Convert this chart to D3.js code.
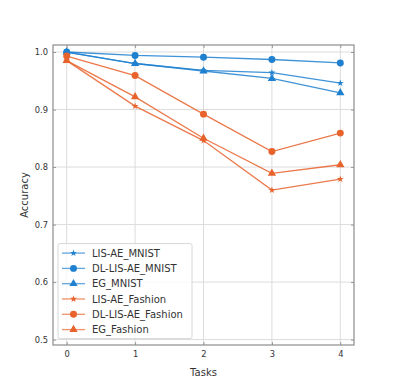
<!DOCTYPE html>
<html>
<head>
<meta charset="utf-8">
<script src="https://cdn.jsdelivr.net/npm/d3@7"></script>
<style>
  body { margin: 0; background: #fff; }
  text { font-family: "DejaVu Sans", sans-serif; }
</style>
</head>
<body>
<svg id="chart" width="396" height="389"></svg>
<script>
/* data */
const tasks = [0, 1, 2, 3, 4];
const lisAeMnist      = [1.000, 0.980, 0.968, 0.964, 0.946];
const dlLisAeMnist    = [1.000, 0.994, 0.991, 0.987, 0.981];
const egMnist         = [1.000, 0.980, 0.967, 0.954, 0.929];
const lisAeFashion    = [0.985, 0.906, 0.846, 0.760, 0.779];
const dlLisAeFashion  = [0.993, 0.959, 0.892, 0.827, 0.859];
const egFashion       = [0.985, 0.922, 0.850, 0.789, 0.804];
const yTicks = [0.5, 0.6, 0.7, 0.8, 0.9, 1.0];

const blue = "#1f80d0", orange = "#e8622c";
const series = [
  {name: "LIS-AE_MNIST",      values: lisAeMnist,     color: blue,   shape: "star"},
  {name: "DL-LIS-AE_MNIST",   values: dlLisAeMnist,   color: blue,   shape: "circle"},
  {name: "EG_MNIST",          values: egMnist,        color: blue,   shape: "triangle"},
  {name: "LIS-AE_Fashion",    values: lisAeFashion,   color: orange, shape: "star"},
  {name: "DL-LIS-AE_Fashion", values: dlLisAeFashion, color: orange, shape: "circle"},
  {name: "EG_Fashion",        values: egFashion,      color: orange, shape: "triangle"}
];

/* dimensions */
const margin = {top: 45, right: 42, bottom: 44, left: 53},
      width  = 396 - margin.left - margin.right,
      height = 389 - margin.top  - margin.bottom;

const svg = d3.select("#chart").append("g")
  .attr("transform", `translate(${margin.left},${margin.top})`);

const x = d3.scaleLinear().domain([-0.2, 4.2]).range([0, width]);
const y = d3.scaleLinear().domain([0.4906, 1.0122]).range([height, 0]);

// grid
svg.append("g").selectAll("line").data(tasks).join("line")
  .attr("x1", d => x(d)).attr("x2", d => x(d))
  .attr("y1", 0).attr("y2", height)
  .attr("stroke", "#dcdcdc").attr("stroke-width", 1);
svg.append("g").selectAll("line").data(yTicks).join("line")
  .attr("x1", 0).attr("x2", width)
  .attr("y1", d => y(d)).attr("y2", d => y(d))
  .attr("stroke", "#dcdcdc").attr("stroke-width", 1);

// axes (ticks inward)
svg.append("g").attr("transform", `translate(0,${height})`)
  .call(d3.axisBottom(x).tickValues(tasks).tickFormat(d3.format("d")).tickSizeInner(-3).tickSizeOuter(0).tickPadding(6));
svg.append("g")
  .call(d3.axisLeft(y).tickValues(yTicks).tickFormat(d3.format(".1f")).tickSizeInner(-3).tickSizeOuter(0).tickPadding(5));
svg.append("g").attr("transform", `translate(${width},0)`)
  .call(d3.axisRight(y).tickValues(yTicks).tickFormat("").tickSizeInner(-3).tickSizeOuter(0));
svg.append("g")
  .call(d3.axisTop(x).tickValues(tasks).tickFormat("").tickSizeInner(-3).tickSizeOuter(0));
svg.selectAll(".domain").remove();
svg.selectAll(".tick line").attr("stroke", "#999");
svg.selectAll(".tick text").attr("font-size", 8.3).attr("fill", "#333");

svg.append("rect").attr("width", width).attr("height", height)
  .attr("fill", "none").attr("stroke", "#8c8c8c").attr("stroke-width", 1.2);

// lines
const line = d3.line().x((d, i) => x(tasks[i])).y(d => y(d));
const sym = {
  star: d3.symbol().type(d3.symbolStar).size(15),
  circle: d3.symbol().type(d3.symbolCircle).size(38),
  triangle: d3.symbol().type(d3.symbolTriangle).size(30)
};

series.forEach(s => {
  svg.append("path").datum(s.values)
    .attr("d", line).attr("fill", "none")
    .attr("stroke", s.color).attr("stroke-width", 1.3).attr("stroke-opacity", 0.85);
  svg.append("g").selectAll("path").data(s.values).join("path")
    .attr("transform", (d, i) => `translate(${x(tasks[i])},${y(d)})`)
    .attr("d", sym[s.shape]())
    .attr("fill", s.color);
});

// axis labels
svg.append("text").attr("x", width / 2).attr("y", height + 31)
  .attr("text-anchor", "middle").attr("font-size", 10).attr("fill", "#333").text("Tasks");
svg.append("text").attr("transform", "rotate(-90)")
  .attr("x", -height / 2).attr("y", -25)
  .attr("text-anchor", "middle").attr("font-size", 10).attr("fill", "#333").text("Accuracy");

// legend
const lg = svg.append("g").attr("transform", `translate(${x(-0.2) + 5},${y(0.5) - 96})`);
lg.append("rect").attr("width", 134).attr("height", 95)
  .attr("fill", "#fff").attr("fill-opacity", 0.8)
  .attr("stroke", "#d8d8d8").attr("rx", 2);
const item = lg.selectAll(".item").data(series).join("g")
  .attr("transform", (d, i) => `translate(0,${9.5 + i * 15.3})`);
item.append("line").attr("x1", 4).attr("x2", 27)
  .attr("stroke", d => d.color).attr("stroke-width", 1.3).attr("stroke-opacity", 0.7);
item.append("path").attr("transform", "translate(15.5,0)")
  .attr("d", d => sym[d.shape]()).attr("fill", d => d.color);
item.append("text").attr("x", 34).attr("y", 3.6)
  .attr("font-size", 10).attr("fill", "#333").text(d => d.name);
</script>
</body>
</html>
